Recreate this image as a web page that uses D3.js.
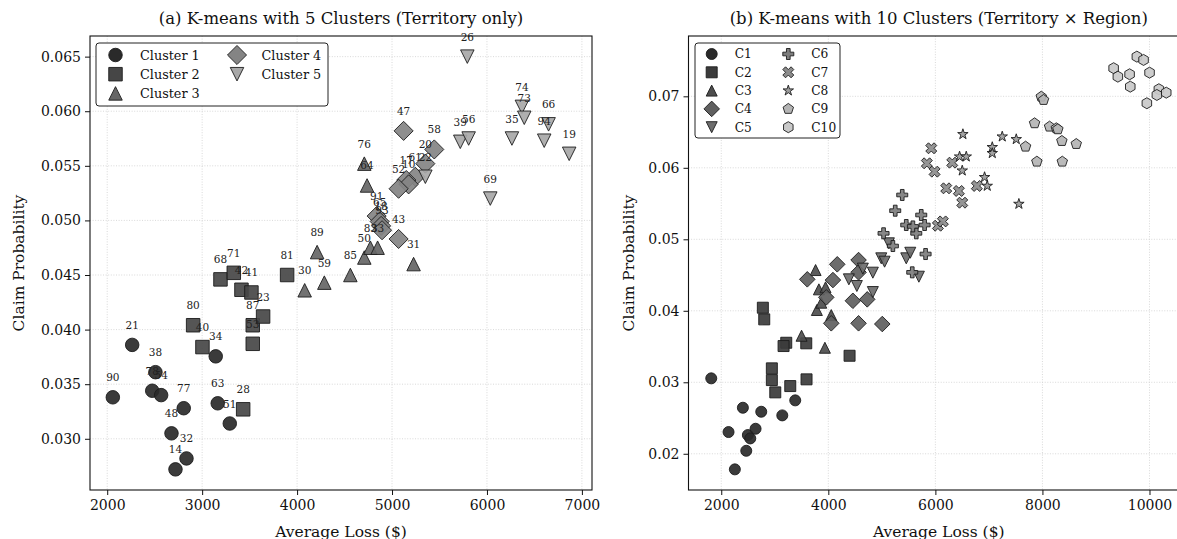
<!DOCTYPE html>
<html>
<head>
<meta charset="utf-8">
<script src="https://cdn.jsdelivr.net/npm/d3@7"></script>
<style>
  body { margin: 0; background: #fff; }
  svg { display: block; font-family: "DejaVu Serif", serif; }
</style>
</head>
<body>
<svg id="chart" width="1177" height="539"></svg>
<script>
// ---- Panel (a): K-means 5 cụm — [nhãn, tổn thất TB, xác suất]
const k5c1 = [[21,2263,0.0386],[38,2508,0.0361],[78,2474,0.0344],[54,2568,0.0340],[90,2059,0.0338],[77,2806,0.0328],
              [34,3143,0.03755],[63,3164,0.03325],[51,3291,0.0314],[48,2677,0.0305],[32,2835,0.0282],[14,2719,0.0272]];
const k5c2 = [[80,2905,0.0404],[40,3003,0.0384],[28,3432,0.0327],[87,3533,0.0404],[53,3533,0.0387],[23,3642,0.0412],
              [68,3193,0.0446],[71,3333,0.0452],[42,3414,0.04365],[41,3519,0.0434],[81,3895,0.0450]];
const k5c3 = [[30,4080,0.0436],[59,4287,0.0443],[85,4561,0.0450],[89,4211,0.0471],[31,5227,0.0460],[76,4708,0.0552],
              [64,4737,0.0532],[50,4708,0.0466],[83,4772,0.0475],[33,4848,0.0475]];
const k5c4 = [[47,5122,0.0582],[58,5445,0.0565],[20,5351,0.0552],[61,5245,0.0540],[17,5150,0.0537],[10,5175,0.0533],
              [52,5069,0.0529],[91,4838,0.0504],[65,4870,0.0499],[18,4885,0.0495],[93,4895,0.0491],[43,5069,0.0483]];
const k5c5 = [[26,5793,0.0650],[74,6368,0.0604],[73,6393,0.0594],[66,6649,0.0588],[94,6603,0.0573],[19,6866,0.0561],
              [35,6263,0.0575],[39,5719,0.0572],[56,5807,0.0575],[69,6035,0.0520],[22,5351,0.0540]];
const k5Names = ["Cluster 1", "Cluster 2", "Cluster 3", "Cluster 4", "Cluster 5"];
const k5XTicks = [2000, 3000, 4000, 5000, 6000, 7000];
const k5YTicks = [0.030, 0.035, 0.040, 0.045, 0.050, 0.055, 0.060, 0.065];

// ---- Panel (b): K-means 10 cụm — [tổn thất TB, xác suất]
const k10c1 = [[1813,0.03055],[2404,0.02644],[2747,0.02588],[3140,0.02537],[3382,0.02747],[2136,0.02304],
               [2497,0.02262],[2542,0.02215],[2641,0.0235],[2467,0.02042],[2254,0.01782]];
const k10c2 = [[2777,0.04043],[2803,0.0388],[3214,0.03553],[3164,0.03507],[3588,0.03545],[4397,0.03371],
               [2945,0.03195],[2945,0.03031],[3009,0.02859],[3289,0.02947],[3593,0.03041]];
const k10c3 = [[3500,0.03651],[3936,0.03483],[3762,0.0457],[3824,0.0430],[3948,0.04328],[3786,0.04011],
               [3868,0.04113],[4055,0.0394]];
const k10c4 = [[3607,0.0444],[4167,0.0465],[4086,0.0443],[3962,0.04188],[4565,0.0471],[4565,0.04538],
               [4459,0.0414],[4727,0.0416],[4055,0.03825],[4565,0.03825],[5008,0.03815]];
const k10c5 = [[4645,0.0459],[4832,0.04533],[4384,0.0444],[4533,0.04347],[4832,0.04262],[4989,0.04734],
               [5051,0.04687],[5456,0.04734],[5531,0.04812],[5692,0.04477],[5131,0.04944]];
const k10c6 = [[5206,0.04906],[5817,0.04794],[5568,0.04538],[5032,0.05084],[5643,0.05084],[5381,0.0562],
               [5250,0.054],[5736,0.0534],[5456,0.0520],[5580,0.0518],[5799,0.0520]];
const k10c7 = [[5923,0.06273],[5841,0.06063],[5985,0.05946],[6315,0.06072],[6203,0.05713],[6439,0.05676],
               [6502,0.05512],[6775,0.05746],[6047,0.0519],[6140,0.0525]];
const k10c8 = [[6514,0.06469],[6452,0.06156],[6577,0.06156],[6502,0.0596],[7249,0.06436],[7511,0.06399],
               [7063,0.06288],[7063,0.06204],[6919,0.05868],[6969,0.05746],[7560,0.05494]];
const k10c9 = [[7978,0.06995],[8021,0.06949],[7853,0.06623],[8133,0.06576],[8258,0.06553],[8288,0.06539],
               [8363,0.06375],[8632,0.06333],[7685,0.06296],[7896,0.06086],[8371,0.06086]];
const k10c10 = [[9330,0.07393],[9409,0.07275],[9764,0.07555],[9889,0.07509],[9628,0.07308],[9641,0.07135],
                [10001,0.07331],[10175,0.07099],[10138,0.07019],[10313,0.07051],[9951,0.06903]];
const k10Names = ["C1", "C2", "C3", "C4", "C5", "C6", "C7", "C8", "C9", "C10"];
const k10XTicks = [2000, 4000, 6000, 8000, 10000];
const k10YTicks = [0.02, 0.03, 0.04, 0.05, 0.06, 0.07];

// ---- Kiểu marker (giống matplotlib), size = markersize tính bằng px
function poly(pts) {
    return { draw(ctx, s) {
        pts.forEach((p, i) => i ? ctx.lineTo(p[0] * s, p[1] * s) : ctx.moveTo(p[0] * s, p[1] * s));
        ctx.closePath();
    } };
}
function regular(n, inner) {
    let pts = [];
    let k = inner ? 2 * n : n;
    for (let i = 0; i < k; i++) {
        let a = -Math.PI / 2 + i * 2 * Math.PI / k;
        let r = (inner && i % 2) ? 0.5 * inner : 0.5;
        pts.push([r * Math.cos(a), r * Math.sin(a)]);
    }
    return poly(pts);
}
const circleT = { draw(ctx, s) { ctx.moveTo(s / 2, 0); ctx.arc(0, 0, s / 2, 0, 2 * Math.PI); } };
const squareT = poly([[-.5, -.5], [.5, -.5], [.5, .5], [-.5, .5]]);
const triUpT = poly([[0, -.5], [.5, .5], [-.5, .5]]);
const triDownT = poly([[0, .5], [.5, -.5], [-.5, -.5]]);
const diamondT = poly([[0, -.7071], [.7071, 0], [0, .7071], [-.7071, 0]]);
const plusT = poly([[-1,-3],[1,-3],[1,-1],[3,-1],[3,1],[1,1],[1,3],[-1,3],[-1,1],[-3,1],[-3,-1],[-1,-1]].map(p => [p[0] / 6, p[1] / 6]));
const xT = poly([[-1,-2],[0,-1],[1,-2],[2,-1],[1,0],[2,1],[1,2],[0,1],[-1,2],[-2,1],[-1,0],[-2,-1]].map(p => [p[0] / 4, p[1] / 4]));
const starT = regular(5, 0.381966);
const pentT = regular(5);
const hexT = regular(6);

const svg = d3.select("#chart");

function drawPanel(cfg) {
    let all = cfg.clusters.flat();
    // Giới hạn trục = phạm vi dữ liệu + 5% mỗi bên
    let ext = (acc) => {
        let [a, b] = d3.extent(all, acc);
        let pad = (b - a) * 0.05;
        return [a - pad, b + pad];
    };
    let x = d3.scaleLinear().domain(ext(d => d[cfg.xi])).range([cfg.left, cfg.right]);
    let y = d3.scaleLinear().domain(ext(d => d[cfg.yi])).range([cfg.bottom, cfg.top]);
    let g = svg.append("g");

    // Đường lưới
    g.append("g").selectAll("line").data(cfg.xTicks).enter().append("line")
        .attr("x1", d => x(d)).attr("x2", d => x(d)).attr("y1", cfg.top).attr("y2", cfg.bottom)
        .attr("stroke", "#cfcfcf").attr("stroke-width", 0.8).attr("stroke-dasharray", "1,1.6");
    g.append("g").selectAll("line").data(cfg.yTicks).enter().append("line")
        .attr("y1", d => y(d)).attr("y2", d => y(d)).attr("x1", cfg.left).attr("x2", cfg.right)
        .attr("stroke", "#cfcfcf").attr("stroke-width", 0.8).attr("stroke-dasharray", "1,1.6");

    // Điểm
    let clipId = "clip" + cfg.id;
    svg.append("clipPath").attr("id", clipId).append("rect")
        .attr("x", cfg.left).attr("y", cfg.top).attr("width", cfg.right - cfg.left).attr("height", cfg.bottom - cfg.top);
    let pts = g.append("g").attr("clip-path", `url(#${clipId})`);
    cfg.clusters.forEach((data, ci) => {
        pts.append("g").selectAll("path").data(data).enter().append("path")
            .attr("d", d3.symbol(cfg.shapes[ci], cfg.ms))
            .attr("transform", d => `translate(${x(d[cfg.xi])},${y(d[cfg.yi])})`)
            .attr("fill", cfg.colors[ci]).attr("fill-opacity", 0.92)
            .attr("stroke", "#1c1c1c").attr("stroke-width", 0.9);
    });

    // Nhãn điểm
    if (cfg.labels) {
        g.append("g").selectAll("text").data(all).enter().append("text")
            .attr("x", d => x(d[cfg.xi])).attr("y", d => y(d[cfg.yi]) - 16)
            .attr("text-anchor", "middle").style("font-size", "10.5px").style("fill", "#222")
            .text(d => d[0]);
    }

    // Trục
    let ax = g.append("g").attr("transform", `translate(0,${cfg.bottom})`)
        .call(d3.axisBottom(x).tickValues(cfg.xTicks).tickSize(5).tickPadding(5).tickFormat(d3.format("d")));
    let ay = g.append("g").attr("transform", `translate(${cfg.left},0)`)
        .call(d3.axisLeft(y).tickValues(cfg.yTicks).tickSize(5).tickPadding(4).tickFormat(d3.format(cfg.yFmt)));
    [ax, ay].forEach(a => {
        a.select(".domain").remove();
        a.selectAll("text").style("font-size", "14px").style("font-family", "DejaVu Serif").attr("fill", "#111");
        a.selectAll("line").attr("stroke", "#111");
    });

    // Khung
    g.append("rect").attr("x", cfg.left).attr("y", cfg.top)
        .attr("width", cfg.right - cfg.left).attr("height", cfg.bottom - cfg.top)
        .attr("fill", "none").attr("stroke", "#111").attr("stroke-width", 1.1);

    // Tiêu đề và nhãn trục
    let cx = (cfg.left + cfg.right) / 2;
    g.append("text").attr("x", cx).attr("y", cfg.top - 12).attr("text-anchor", "middle")
        .style("font-size", "16.5px").style("fill", "#111").text(cfg.title);
    g.append("text").attr("x", cx).attr("y", 537).attr("text-anchor", "middle")
        .style("font-size", "15.5px").style("fill", "#111").text("Average Loss ($)");
    g.append("text").attr("transform", `translate(${cfg.ylabelX},${(cfg.top + cfg.bottom) / 2}) rotate(-90)`)
        .attr("text-anchor", "middle").style("font-size", "15.5px").style("fill", "#111").text("Claim Probability");

    // Chú giải
    let L = cfg.legend;
    let lg = g.append("g");
    lg.append("rect").attr("x", L.x).attr("y", L.y).attr("width", L.w).attr("height", L.h)
        .attr("rx", 3).attr("fill", "#fff").attr("stroke", "#222").attr("stroke-width", 1);
    cfg.names.forEach((name, i) => {
        let col = Math.floor(i / L.rows), row = i % L.rows;
        let mx = L.colX[col], my = L.rowY + row * L.rowStep;
        lg.append("path").attr("d", d3.symbol(cfg.shapes[i], cfg.ms))
            .attr("transform", `translate(${mx},${my})`)
            .attr("fill", cfg.colors[i]).attr("stroke", "#1c1c1c").attr("stroke-width", 0.9);
        lg.append("text").attr("x", mx + L.textDx).attr("y", my + L.font * 0.36)
            .style("font-size", L.font + "px").style("fill", "#111").text(name);
    });
}

drawPanel({
    id: "a", clusters: [k5c1, k5c2, k5c3, k5c4, k5c5], names: k5Names, labels: true, xi: 1, yi: 2,
    shapes: [circleT, squareT, triUpT, diamondT, triDownT],
    colors: ["#2a2a2a", "#464646", "#666666", "#848484", "#a8a8a8"],
    ms: 13.5, left: 90, right: 592, top: 36, bottom: 490,
    xTicks: k5XTicks, yTicks: k5YTicks, yFmt: ".3f",
    title: "(a) K-means with 5 Clusters (Territory only)", ylabelX: 24,
    legend: { x: 96, y: 43, w: 232, h: 63, rows: 3, colX: [115.5, 237], rowY: 55, rowStep: 19.2, textDx: 24.5, font: 12.8 }
});

drawPanel({
    id: "b", clusters: [k10c1, k10c2, k10c3, k10c4, k10c5, k10c6, k10c7, k10c8, k10c9, k10c10], names: k10Names,
    labels: false, xi: 0, yi: 1,
    shapes: [circleT, squareT, triUpT, diamondT, triDownT, plusT, xT, starT, pentT, hexT],
    colors: ["#2a2a2a", "#3b3b3b", "#4d4d4d", "#606060", "#6d6d6d", "#7d7d7d", "#8c8c8c", "#9c9c9c", "#b4b4b4", "#c9c9c9"],
    ms: 11, left: 688.5, right: 1189, top: 36, bottom: 490,
    xTicks: k10XTicks, yTicks: k10YTicks, yFmt: ".2f",
    title: "(b) K-means with 10 Clusters (Territory \u00d7 Region)", ylabelX: 634,
    legend: { x: 695, y: 43, w: 145, h: 95, rows: 5, colX: [711.7, 788.3], rowY: 54, rowStep: 18.3, textDx: 23, font: 12.2 }
});
</script>
</body>
</html>
